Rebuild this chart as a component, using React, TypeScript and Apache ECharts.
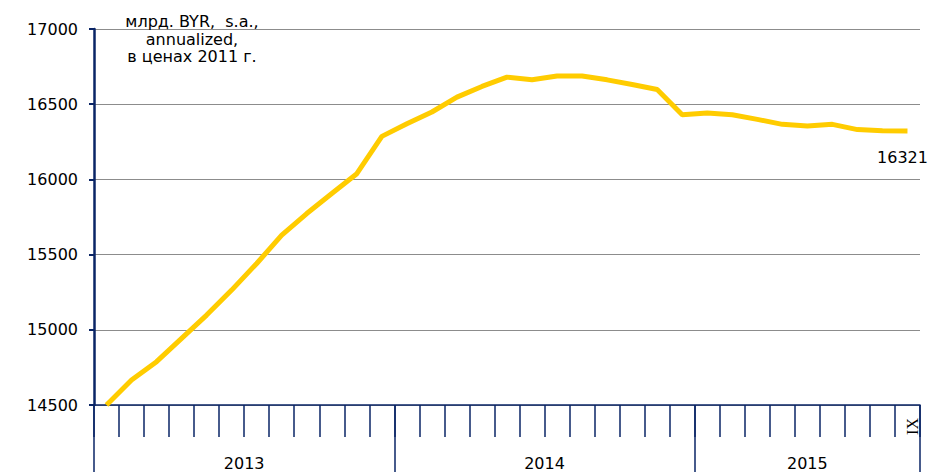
import React, { useEffect, useRef } from "react";
import * as echarts from "echarts";

const monthLabels = [
  "I", "II", "III", "IV", "V", "VI", "VII", "VIII", "IX", "X", "XI", "XII",
  "I", "II", "III", "IV", "V", "VI", "VII", "VIII", "IX", "X", "XI", "XII",
  "I", "II", "III", "IV", "V", "VI", "VII", "VIII", "IX",
];
const gdpValues = [
  14500, 14666, 14788, 14943, 15098, 15264, 15441, 15629, 15773, 15906, 16038, 16286,
  16370, 16448, 16547, 16618, 16680, 16662, 16687, 16687, 16662, 16631, 16598, 16430,
  16441, 16430, 16399, 16366, 16355, 16366, 16331, 16323, 16321,
];
const years = ["2013", "2014", "2015"];
const yearBoundaries = [0, 12, 24, 33];
const yearCenters = [6, 18, 28.5];
const titleLines = ["млрд. BYR,  s.a.,", "annualized,", "в ценах 2011 г."];

const NAVY = "#0a2566";
const FONT = "DejaVu Sans";

export default function App() {
  const ref = useRef<HTMLDivElement>(null);
  useEffect(() => {
    if (!ref.current) return;
    const chart = echarts.init(ref.current, undefined, { renderer: "svg" });
    const last = gdpValues.length - 1;
    chart.setOption({
      animation: false,
      backgroundColor: "#ffffff",
      title: {
        text: titleLines.join("\n"),
        left: 187,
        top: 8,
        textAlign: "center",
        textStyle: {
          fontFamily: FONT,
          fontSize: 16,
          fontWeight: "normal",
          color: "#000",
          lineHeight: 17.5,
        },
      },
      grid: { left: 94, right: 11, top: 29, bottom: 67, containLabel: false },
      xAxis: [
        {
          type: "category",
          data: monthLabels,
          boundaryGap: true,
          axisLine: { show: true, lineStyle: { color: NAVY, width: 1.5 } },
          axisTick: { show: true, interval: 0, length: 32, lineStyle: { color: NAVY, width: 1.5 } },
          axisLabel: {
            show: true,
            interval: (i: number) => i === last,
            rotate: 90,
            margin: 13,
            verticalAlign: "top",
            lineHeight: 10,
            fontFamily: "Liberation Serif",
            fontSize: 16,
            color: "#000",
          },
          splitLine: { show: false },
        },
        {
          type: "value",
          min: 0,
          max: 33,
          position: "bottom",
          axisLine: { show: false },
          splitLine: { show: false },
          axisTick: {
            show: true,
            customValues: yearBoundaries,
            length: 67,
            lineStyle: { color: NAVY, width: 1.5 },
          },
          axisLabel: {
            show: true,
            customValues: yearCenters,
            formatter: (v: number) => years[yearCenters.indexOf(v)] ?? "",
            margin: 50,
            fontFamily: FONT,
            fontSize: 16,
            color: "#000",
          },
        },
      ],
      yAxis: {
        type: "value",
        min: 14500,
        max: 17000,
        interval: 500,
        axisLine: { show: true, lineStyle: { color: NAVY, width: 2.5 } },
        axisTick: { show: true, length: 5, lineStyle: { color: NAVY, width: 2 } },
        axisLabel: {
          fontFamily: FONT,
          fontSize: 16,
          color: "#000",
          margin: 16,
          formatter: (v: number) => String(v),
        },
        splitLine: { show: true, lineStyle: { color: "#8c8c8c", width: 1 } },
      },
      series: [
        {
          type: "line",
          xAxisIndex: 0,
          data: gdpValues,
          symbol: "circle",
          symbolSize: 0,
          showSymbol: true,
          lineStyle: { color: "#FFCC00", width: 5 },
          itemStyle: { color: "#FFCC00", opacity: 0 },
          label: {
            show: true,
            position: "bottom",
            distance: 18,
            padding: [0, 10, 0, 0],
            fontFamily: FONT,
            fontSize: 16,
            color: "#000",
            opacity: 1,
            formatter: (p: any) => (p.dataIndex === last ? String(p.value) : ""),
          },
          labelLayout: { hideOverlap: false },
          z: 3,
        },
      ],
    });
    return () => chart.dispose();
  }, []);
  return (
    <div
      ref={ref}
      style={{ position: "absolute", left: 0, top: 0, width: 931, height: 472 }}
    />
  );
}
